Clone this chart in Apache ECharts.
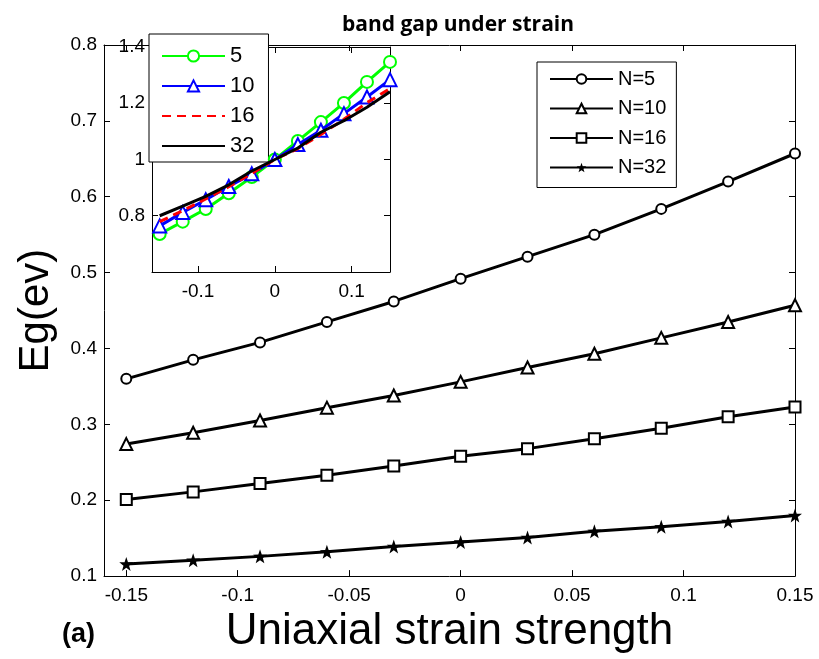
<!DOCTYPE html>
<html>
<head>
<meta charset="utf-8">
<script src="https://cdn.jsdelivr.net/npm/echarts@6/dist/echarts.min.js"></script>
<style>
  html, body { margin: 0; padding: 0; background: #fff; }
  #chart { width: 819px; height: 659px; }
</style>
</head>
<body>
<div id="chart"></div>
<script>
// strain values (x)
var strain = [-0.15, -0.12, -0.09, -0.06, -0.03, 0, 0.03, 0.06, 0.09, 0.12, 0.15];

// band gap Eg (ev), main plot
var eg5  = [0.360, 0.385, 0.408, 0.435, 0.462, 0.492, 0.521, 0.550, 0.584, 0.620, 0.657];
var eg10 = [0.274, 0.289, 0.305, 0.322, 0.338, 0.356, 0.375, 0.393, 0.414, 0.435, 0.457];
var eg16 = [0.201, 0.211, 0.222, 0.233, 0.245, 0.258, 0.268, 0.281, 0.295, 0.310, 0.323];
var eg32 = [0.116, 0.121, 0.126, 0.132, 0.139, 0.145, 0.151, 0.159, 0.165, 0.172, 0.180];

// inset: relative band gap
var rel5  = [0.735, 0.779, 0.824, 0.880, 0.938, 1.000, 1.066, 1.133, 1.201, 1.276, 1.347];
var rel10 = [0.764, 0.812, 0.857, 0.904, 0.949, 1.000, 1.053, 1.104, 1.163, 1.222, 1.284];
var rel16 = [0.779, 0.818, 0.860, 0.903, 0.950, 1.000, 1.039, 1.089, 1.143, 1.202, 1.252];
var rel32 = [0.800, 0.834, 0.869, 0.910, 0.959, 1.000, 1.041, 1.097, 1.138, 1.186, 1.241];

// tick labels
var mainXTicks  = [-0.15, -0.1, -0.05, 0, 0.05, 0.1, 0.15];
var mainYTicks  = [0.1, 0.2, 0.3, 0.4, 0.5, 0.6, 0.7, 0.8];
var insetXTicks = [-0.1, 0, 0.1];
var insetYTicks = [0.8, 1, 1.2, 1.4];

var mainNames  = ['N=5', 'N=10', 'N=16', 'N=32'];

function pairs(ys) {
  return strain.map(function (x, i) { return [x, ys[i]]; });
}

var star = 'path://M0,-10 L2.35,-3.24 L9.51,-3.09 L3.8,1.24 L5.88,8.09 L0,4 L-5.88,8.09 L-3.8,1.24 L-9.51,-3.09 L-2.35,-3.24 Z';

var tickFont = 'Liberation Sans';
var lineCol = { color: '#000', width: 1 };

function axis(grid, pos, min, max, ticks, showLabel, margin, extra) {
  var a = {
    type: 'value', gridIndex: grid, position: pos, min: min, max: max,
    axisLine: { show: true, onZero: false, lineStyle: lineCol },
    axisTick: { show: true, inside: true, length: 6, customValues: ticks, lineStyle: lineCol },
    axisLabel: { show: showLabel, customValues: ticks, color: '#000', fontFamily: tickFont, fontSize: 19, margin: margin },
    splitLine: { show: false }
  };
  for (var k in extra) a[k] = extra[k];
  return a;
}

var myChart = echarts.init(document.getElementById('chart'));

var option = {
  backgroundColor: '#fff',
  animation: false,
  title: {
    text: 'band gap under strain',
    left: 453, top: 10, textAlign: 'center',
    textStyle: { fontFamily: 'Open Sans', fontWeight: 'bold', fontSize: 21, color: '#000' }
  },
  graphic: [{
    type: 'text', left: 62, top: 621,
    style: { text: '(a)', font: 'bold 27px "Liberation Sans"', fill: '#000' }
  }],
  legend: [{
    data: mainNames, orient: 'vertical', left: 537, top: 62,
    itemWidth: 63, itemHeight: 12, itemGap: 9.5,
    padding: [7, 10, 10, 12],
    borderColor: '#000', borderWidth: 1, backgroundColor: '#fff',
    textStyle: { fontFamily: tickFont, fontSize: 20, color: '#000' }
  }, {
    data: ['5', '10', { name: '16', itemStyle: { opacity: 0 } }, { name: '32', itemStyle: { opacity: 0 } }],
    orient: 'vertical', left: 149, top: 34,
    itemWidth: 63, itemHeight: 14, itemGap: 8,
    padding: [11, 14, 5, 12],
    borderColor: '#000', borderWidth: 1, backgroundColor: '#fff',
    textStyle: { fontFamily: tickFont, fontSize: 22, color: '#000' }
  }],
  grid: [
    { left: 104, right: 24, top: 45, bottom: 78 },
    { left: 152, right: 429, top: 47, bottom: 387, show: true, backgroundColor: '#fff', borderWidth: 0 }
  ],
  xAxis: [
    axis(0, 'bottom', -0.16, 0.15, mainXTicks, true, 10, {
      name: 'Uniaxial strain strength', nameLocation: 'middle', nameGap: 29,
      nameTextStyle: { fontFamily: tickFont, fontSize: 44, color: '#000' }
    }),
    axis(0, 'top', -0.16, 0.15, mainXTicks, false, 10, {}),
    axis(1, 'bottom', -0.16, 0.15, insetXTicks, true, 10, {}),
    axis(1, 'top', -0.16, 0.15, insetXTicks, false, 10, {})
  ],
  yAxis: [
    axis(0, 'left', 0.1, 0.8, mainYTicks, true, 7, {
      name: 'Eg(ev)', nameLocation: 'middle', nameGap: 47,
      nameTextStyle: { fontFamily: tickFont, fontSize: 42, color: '#000' }
    }),
    axis(0, 'right', 0.1, 0.8, mainYTicks, false, 7, {}),
    axis(1, 'left', 0.6, 1.4, insetYTicks, true, 7, {}),
    axis(1, 'right', 0.6, 1.4, insetYTicks, false, 7, {})
  ],
  series: [
    // main plot
    { name: 'N=5', type: 'line', xAxisIndex: 0, yAxisIndex: 0, data: pairs(eg5),
      symbol: 'emptyCircle', symbolSize: 10, lineStyle: { color: '#000', width: 3 },
      itemStyle: { color: '#000', borderWidth: 2 } },
    { name: 'N=10', type: 'line', xAxisIndex: 0, yAxisIndex: 0, data: pairs(eg10),
      symbol: 'emptyTriangle', symbolSize: 12, lineStyle: { color: '#000', width: 3 },
      itemStyle: { color: '#000', borderWidth: 2 } },
    { name: 'N=16', type: 'line', xAxisIndex: 0, yAxisIndex: 0, data: pairs(eg16),
      symbol: 'emptyRect', symbolSize: 11, lineStyle: { color: '#000', width: 3 },
      itemStyle: { color: '#000', borderWidth: 2 } },
    { name: 'N=32', type: 'line', xAxisIndex: 0, yAxisIndex: 0, data: pairs(eg32),
      symbol: star, symbolSize: 14, lineStyle: { color: '#000', width: 3 },
      itemStyle: { color: '#000' } },
    // inset
    { name: '5', type: 'line', xAxisIndex: 2, yAxisIndex: 2, data: pairs(rel5),
      symbol: 'emptyCircle', symbolSize: 12, lineStyle: { color: '#00ff00', width: 3 },
      itemStyle: { color: '#00ff00', borderWidth: 2 }, z: 5 },
    { name: '10', type: 'line', xAxisIndex: 2, yAxisIndex: 2, data: pairs(rel10),
      symbol: 'emptyTriangle', symbolSize: 13, lineStyle: { color: '#0000ff', width: 3 },
      itemStyle: { color: '#0000ff', borderWidth: 2 }, z: 6 },
    { name: '16', type: 'line', xAxisIndex: 2, yAxisIndex: 2, data: pairs(rel16),
      symbol: 'none', lineStyle: { color: '#ff0000', width: 3, type: [9, 6] },
      itemStyle: { color: '#ff0000' }, z: 7 },
    { name: '32', type: 'line', xAxisIndex: 2, yAxisIndex: 2, data: pairs(rel32),
      symbol: 'none', lineStyle: { color: '#000', width: 3 },
      itemStyle: { color: '#000' }, z: 8 }
  ]
};

myChart.setOption(option);
</script>
</body>
</html>
